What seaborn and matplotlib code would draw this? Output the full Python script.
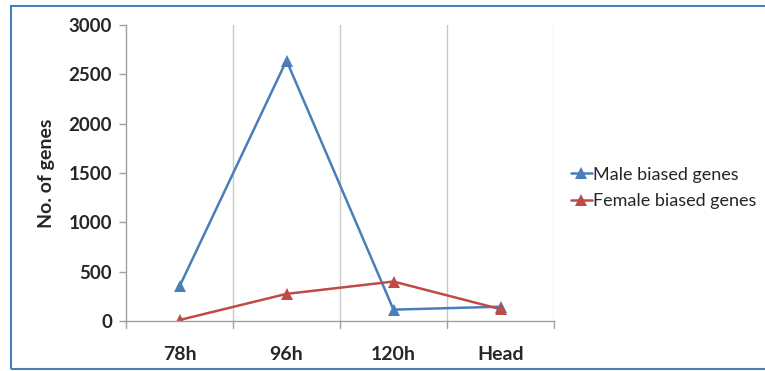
import matplotlib
matplotlib.use("Agg")
import matplotlib.pyplot as plt
import seaborn as sns
import pandas as pd

# Stages and gene counts per sex-biased class
stages = ["78h", "96h", "120h", "Head"]
male_biased = [350, 2640, 115, 145]
female_biased = [10, 275, 400, 120]
series_names = ["Male biased genes", "Female biased genes"]
y_ticks = [0, 500, 1000, 1500, 2000, 2500, 3000]

sns.set_theme(style="white")
plt.rcParams["font.family"] = ["Lato", "DejaVu Sans"]

df = pd.DataFrame({
    "pos": list(range(len(stages))) * 2,
    "count": male_biased + female_biased,
    "series": [series_names[0]] * len(stages) + [series_names[1]] * len(stages),
})

fig = plt.figure(figsize=(7.65, 3.71), dpi=100)
ax = fig.add_axes([126 / 765, 1 - 321 / 371, (554 - 126) / 765, (321 - 25) / 371])

palette = {series_names[0]: "#4A7EBB", series_names[1]: "#BE4B48"}
sns.lineplot(data=df, x="pos", y="count", hue="series", palette=palette,
             marker="^", markersize=9, markeredgewidth=0, linewidth=1.8,
             ax=ax, legend=True)

ax.set_xlim(-0.5, len(stages) - 0.5)
ax.set_ylim(0, 3000)
ax.set_yticks(y_ticks)
ax.set_yticklabels([str(t) for t in y_ticks], fontsize=13.5, fontweight="bold")
ax.set_xticks(range(len(stages)))
ax.set_xticklabels(stages, fontsize=14, fontweight="bold")
ax.tick_params(axis="x", length=0, pad=18)
ax.tick_params(axis="y", length=5, color="#A0A0A0", width=1, left=True, pad=5)
ax.set_xlabel("")
ax.set_ylabel("No. of genes", fontsize=14, fontweight="bold", labelpad=10)

# Vertical gridlines at the category boundaries, with short ticks below the axis
for b in [0.5, 1.5, 2.5, 3.5]:
    ax.axvline(b, color="#C8C8C8", linewidth=1, zorder=0)
for b in [-0.5, 0.5, 1.5, 2.5, 3.5]:
    ax.plot([b, b], [0, -70], color="#A0A0A0", linewidth=1, clip_on=False)

for side in ["top", "right"]:
    ax.spines[side].set_visible(False)
ax.spines["left"].set_color("#A0A0A0")
ax.spines["bottom"].set_color("#A0A0A0")
ax.spines["left"].set_linewidth(1)
ax.spines["bottom"].set_linewidth(1)

handles, labels = ax.get_legend_handles_labels()
ax.legend_.remove()
fig.legend(handles, labels, loc="center left", bbox_to_anchor=(571 / 765, 1 - 188 / 371),
           frameon=False, fontsize=13, handlelength=1.15, handletextpad=0.05,
           labelspacing=0.6, borderaxespad=0, borderpad=0)

# Outer chart border
border = plt.Rectangle((11 / 765, 2 / 371), 1.0, 1 - 8 / 371, transform=fig.transFigure,
                       fill=False, edgecolor="#4A7EBB", linewidth=1.5)
fig.patches.append(border)

fig.savefig("out.png", dpi=100)
